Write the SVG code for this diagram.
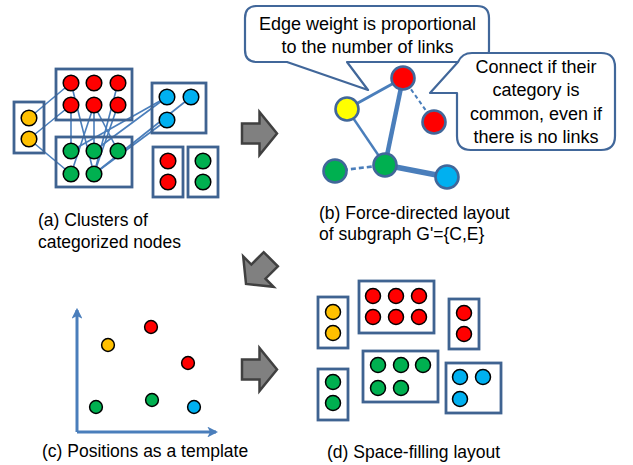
<svg xmlns="http://www.w3.org/2000/svg" width="633" height="465" viewBox="0 0 633 465">
<defs>
<style>
.box{fill:none;stroke:#3F6391;stroke-width:2.8}
.c{stroke:#000;stroke-width:1.5}
.r{fill:#FF0000}.g{fill:#00B050}.b{fill:#00B0F0}.y{fill:#FFC000}
.e{stroke:#4A7EBB;stroke-width:1.6;fill:none}
.fe{stroke:#4A7EBB;fill:none}
.fn{stroke:#41679A;stroke-width:2.6}
.call{fill:#fff;stroke:#41679A;stroke-width:2.2;stroke-linejoin:round}
.t{font-family:"Liberation Sans",Arial,sans-serif;font-size:18px;fill:#000}
.lab{font-family:"Liberation Sans",Arial,sans-serif;font-size:17.5px;fill:#000}
.mid{text-anchor:middle}
.arr{fill:#808080;stroke:#404040;stroke-width:2.5;stroke-linejoin:miter}
.ax{stroke:#4A7EBB;stroke-width:3;fill:none}
</style>
<path id="bigarrow" d="M-17.5,-10 H0 V-21.5 L17.5,0 L0,21.5 V10 H-17.5 Z"/>
<marker id="ah" viewBox="0 0 10 10" refX="8" refY="5" markerWidth="3.6" markerHeight="3.6" orient="auto" markerUnits="strokeWidth">
<path d="M0,0 L10,5 L0,10 L2.5,5 Z" fill="#4A7EBB"/>
</marker>
</defs>
<rect width="633" height="465" fill="#fff"/>

<!-- (a) connectors -->
<g id="connectors-a">
<line class="e" x1="29" y1="118" x2="71" y2="83"/>
<line class="e" x1="29" y1="139" x2="71" y2="105"/>
<line class="e" x1="29" y1="139" x2="71" y2="174"/>
<line class="e" x1="71" y1="83" x2="94" y2="174"/>
<line class="e" x1="71" y1="105" x2="71" y2="151"/>
<line class="e" x1="94" y1="105" x2="94" y2="151"/>
<line class="e" x1="94" y1="105" x2="71" y2="174"/>
<line class="e" x1="94" y1="105" x2="118" y2="151"/>
<line class="e" x1="118" y1="83" x2="94" y2="174"/>
<line class="e" x1="118" y1="105" x2="94" y2="174"/>
<line class="e" x1="167" y1="97" x2="71" y2="151"/>
<line class="e" x1="167" y1="97" x2="94" y2="151"/>
<line class="e" x1="191" y1="97" x2="94" y2="174"/>
<line class="e" x1="167" y1="120" x2="94" y2="174"/>
</g>

<!-- (a) clusters -->
<g id="a-yellow">
<rect class="box" x="14" y="102" width="30" height="51"/>
<circle class="c y" cx="29" cy="118" r="7.8"/>
<circle class="c y" cx="29" cy="139" r="7.8"/>
</g>
<g id="a-red">
<rect class="box" x="56" y="69" width="76" height="51"/>
<circle class="c r" cx="71" cy="83" r="7.8"/>
<circle class="c r" cx="94" cy="83" r="7.8"/>
<circle class="c r" cx="118" cy="83" r="7.8"/>
<circle class="c r" cx="71" cy="105" r="7.8"/>
<circle class="c r" cx="94" cy="105" r="7.8"/>
<circle class="c r" cx="118" cy="105" r="7.8"/>
</g>
<g id="a-blue">
<rect class="box" x="152" y="83" width="54" height="50"/>
<circle class="c b" cx="167" cy="97" r="7.8"/>
<circle class="c b" cx="191" cy="97" r="7.8"/>
<circle class="c b" cx="167" cy="120" r="7.8"/>
</g>
<g id="a-green">
<rect class="box" x="56" y="137" width="76" height="50"/>
<circle class="c g" cx="71" cy="151" r="7.8"/>
<circle class="c g" cx="94" cy="151" r="7.8"/>
<circle class="c g" cx="118" cy="151" r="7.8"/>
<circle class="c g" cx="71" cy="174" r="7.8"/>
<circle class="c g" cx="94" cy="174" r="7.8"/>
</g>
<g id="a-red2">
<rect class="box" x="153" y="147" width="30" height="50"/>
<circle class="c r" cx="168" cy="161" r="7.8"/>
<circle class="c r" cx="168" cy="182" r="7.8"/>
</g>
<g id="a-green2">
<rect class="box" x="188" y="147" width="30" height="50"/>
<circle class="c g" cx="203" cy="161" r="7.8"/>
<circle class="c g" cx="203" cy="182" r="7.8"/>
</g>
<g id="label-a">
<text class="lab" x="38" y="226">(a) Clusters of</text>
<text class="lab" x="38" y="247.5">categorized nodes</text>
</g>

<!-- big arrows -->
<g id="arrows">
<use href="#bigarrow" class="arr" transform="translate(259.5,133.5)"/>
<use href="#bigarrow" class="arr" transform="translate(258.4,271.6) rotate(135)"/>
<use href="#bigarrow" class="arr" transform="translate(259.5,369.5)"/>
</g>

<!-- (b) callouts -->
<g id="callout-1">
<path class="call" d="M257,6 H477 Q489,6 489,18 V50 Q489,62 477,62 H347 L368,90 L287,62 H257 Q245,62 245,50 V18 Q245,6 257,6 Z"/>
<text class="t mid" x="367.5" y="29.5">Edge weight is proportional</text>
<text class="t mid" x="367.5" y="52.5">to the number of links</text>
</g>
<g id="callout-2">
<path class="call" d="M472,53 H601 Q615,53 615,67 V136 Q615,150 601,150 H471 Q457,150 457,136 V93 H430 L458,62 Q462,53 472,53 Z"/>
<text class="t mid" x="536" y="72.5">Connect if their</text>
<text class="t mid" x="536" y="96">category is</text>
<text class="t mid" x="536" y="119.5">common, even if</text>
<text class="t mid" x="536" y="142.5">there is no links</text>
</g>

<!-- (b) graph -->
<g id="connectors-b">
<line class="fe" stroke-width="3" x1="347" y1="109" x2="403" y2="78"/>
<line class="fe" stroke-width="4.5" x1="403" y1="78" x2="385" y2="165"/>
<line class="fe" stroke-width="2.4" x1="347" y1="109" x2="385" y2="165"/>
<line class="fe" stroke-width="5.5" x1="385" y1="165" x2="447" y2="177"/>
<line class="fe" stroke-width="2" stroke-dasharray="4,3" x1="403" y1="78" x2="434" y2="122"/>
<line class="fe" stroke-width="2.6" stroke-dasharray="5,3" x1="335" y1="171" x2="385" y2="165"/>
</g>
<g id="b-red1"><circle class="fn" fill="#FF0000" cx="403" cy="78" r="11.5"/></g>
<g id="b-yellow"><circle class="fn" fill="#FFFF00" cx="347" cy="109" r="11.5"/></g>
<g id="b-red2"><circle class="fn" fill="#FF0000" cx="434" cy="122" r="11.5"/></g>
<g id="b-green1"><circle class="fn" fill="#00B050" cx="385" cy="165" r="11.5"/></g>
<g id="b-green2"><circle class="fn" fill="#00B050" cx="335" cy="171" r="11.5"/></g>
<g id="b-blue"><circle class="fn" fill="#00B0F0" cx="447" cy="177" r="11.5"/></g>
<g id="label-b">
<text class="lab" x="319" y="218.5">(b) Force-directed layout</text>
<text class="lab" x="319" y="240">of subgraph G'={C,E}</text>
</g>

<!-- (c) template -->
<g id="axes">
<line class="ax" x1="77" y1="432" x2="77" y2="310" marker-end="url(#ah)"/>
<line class="ax" x1="77" y1="432" x2="216" y2="432" marker-end="url(#ah)"/>
</g>
<g id="c-dots">
<circle class="c y" cx="108" cy="345" r="6.4"/>
<circle class="c r" cx="151" cy="327" r="6.4"/>
<circle class="c r" cx="188" cy="363" r="6.4"/>
<circle class="c g" cx="96" cy="407" r="6.4"/>
<circle class="c g" cx="152" cy="400" r="6.4"/>
<circle class="c b" cx="194" cy="407" r="6.4"/>
</g>
<g id="label-c"><text class="lab" x="42" y="457">(c) Positions as a template</text></g>

<!-- (d) space-filling -->
<g id="d-yellow">
<rect class="box" x="318" y="297" width="30" height="51"/>
<circle class="c y" cx="333" cy="312" r="7.5"/>
<circle class="c y" cx="333" cy="333" r="7.5"/>
</g>
<g id="d-red">
<rect class="box" x="359" y="281" width="75" height="52"/>
<circle class="c r" cx="373" cy="296" r="7.5"/>
<circle class="c r" cx="396" cy="296" r="7.5"/>
<circle class="c r" cx="419" cy="296" r="7.5"/>
<circle class="c r" cx="373" cy="317" r="7.5"/>
<circle class="c r" cx="396" cy="317" r="7.5"/>
<circle class="c r" cx="419" cy="317" r="7.5"/>
</g>
<g id="d-red2">
<rect class="box" x="449" y="299" width="30" height="50"/>
<circle class="c r" cx="464" cy="313" r="7.5"/>
<circle class="c r" cx="464" cy="334" r="7.5"/>
</g>
<g id="d-green2">
<rect class="box" x="318" y="369" width="30" height="51"/>
<circle class="c g" cx="333" cy="382" r="7.5"/>
<circle class="c g" cx="333" cy="403" r="7.5"/>
</g>
<g id="d-green">
<rect class="box" x="363" y="351" width="75" height="51"/>
<circle class="c g" cx="378" cy="365" r="7.5"/>
<circle class="c g" cx="401" cy="365" r="7.5"/>
<circle class="c g" cx="423" cy="365" r="7.5"/>
<circle class="c g" cx="378" cy="388" r="7.5"/>
<circle class="c g" cx="401" cy="388" r="7.5"/>
</g>
<g id="d-blue">
<rect class="box" x="446" y="363" width="55" height="50"/>
<circle class="c b" cx="460" cy="377" r="7.5"/>
<circle class="c b" cx="483" cy="377" r="7.5"/>
<circle class="c b" cx="460" cy="399" r="7.5"/>
</g>
<g id="label-d"><text class="lab" x="327" y="458">(d) Space-filling layout</text></g>
</svg>
